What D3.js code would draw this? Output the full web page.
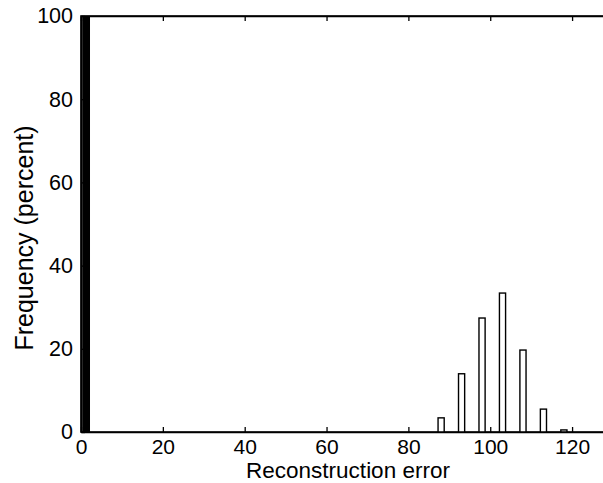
<!DOCTYPE html>
<html><head><meta charset="utf-8">
<script src="https://cdn.jsdelivr.net/npm/d3@7"></script>
<style>body{margin:0;background:#fff;} svg{display:block;}</style>
</head><body>
<svg id="c" width="603" height="483"></svg>
<script>
// Data
const filledBar = [{x0: 0.3, x1: 2.2, value: 100}];
const binCenters = [88, 93, 98, 103, 108, 113, 118];
const binValues  = [3.4, 14.0, 27.4, 33.4, 19.7, 5.5, 0.5];
const binHalfWidth = 0.75;
const xTicks = [0, 20, 40, 60, 80, 100, 120];
const yTicks = [0, 20, 40, 60, 80, 100];

const svg = d3.select("#c");
const L = 81, R = 604, T = 16, B = 432;
const x = d3.scaleLinear().domain([0, 127.8]).range([L, R]);
const y = d3.scaleLinear().domain([0, 100]).range([B, T]);

const font = "'Liberation Sans', Arial, Helvetica, sans-serif";

// frame
svg.append("rect").attr("x", L).attr("y", T).attr("width", R - L).attr("height", B - T)
  .attr("fill", "none").attr("stroke", "#000").attr("stroke-width", 1.6);

// filled bar
svg.selectAll(".fb").data(filledBar).enter().append("rect")
  .attr("x", d => x(d.x0)).attr("width", d => x(d.x1) - x(d.x0))
  .attr("y", d => y(d.value)).attr("height", d => y(0) - y(d.value))
  .attr("fill", "#000");

// hollow bars
svg.selectAll(".hb").data(binCenters.map((c, i) => ({c, v: binValues[i]}))).enter().append("rect")
  .attr("x", d => x(d.c - binHalfWidth)).attr("width", d => x(d.c + binHalfWidth) - x(d.c - binHalfWidth))
  .attr("y", d => y(d.v)).attr("height", d => y(0) - y(d.v))
  .attr("fill", "#fff").attr("stroke", "#000").attr("stroke-width", 1.4);

// axes
const xAxis = d3.axisBottom(x).tickValues(xTicks).tickSizeInner(-5).tickSizeOuter(0).tickPadding(7.5);
const gx = svg.append("g").attr("transform", `translate(0,${B})`).call(xAxis);
gx.select(".domain").attr("stroke-width", 1.6);
gx.selectAll("line").attr("stroke-width", 1.3);
gx.selectAll("text").attr("font-family", font).attr("font-size", 21).attr("fill", "#000");

const xAxisTop = d3.axisTop(x).tickValues(xTicks).tickSizeInner(-5).tickSizeOuter(0).tickFormat("");
const gxt = svg.append("g").attr("transform", `translate(0,${T})`).call(xAxisTop);
gxt.select(".domain").attr("stroke-width", 1.6);
gxt.selectAll("line").attr("stroke-width", 1.3);

const yAxis = d3.axisLeft(y).tickValues(yTicks).tickSizeInner(-4).tickSizeOuter(0).tickPadding(8);
const gy = svg.append("g").attr("transform", `translate(${L},0)`).call(yAxis);
gy.select(".domain").attr("stroke-width", 1.6);
gy.selectAll("line").attr("stroke-width", 1.3);
gy.selectAll("text").attr("font-family", font).attr("font-size", 21.5).attr("fill", "#000");

// labels
svg.append("text").attr("x", 348).attr("y", 478).attr("text-anchor", "middle")
  .attr("font-family", font).attr("font-size", 22.5).text("Reconstruction error");
svg.append("text").attr("transform", `translate(33,238) rotate(-90)`).attr("text-anchor", "middle")
  .attr("font-family", font).attr("font-size", 25).text("Frequency (percent)");
</script>
</body></html>
